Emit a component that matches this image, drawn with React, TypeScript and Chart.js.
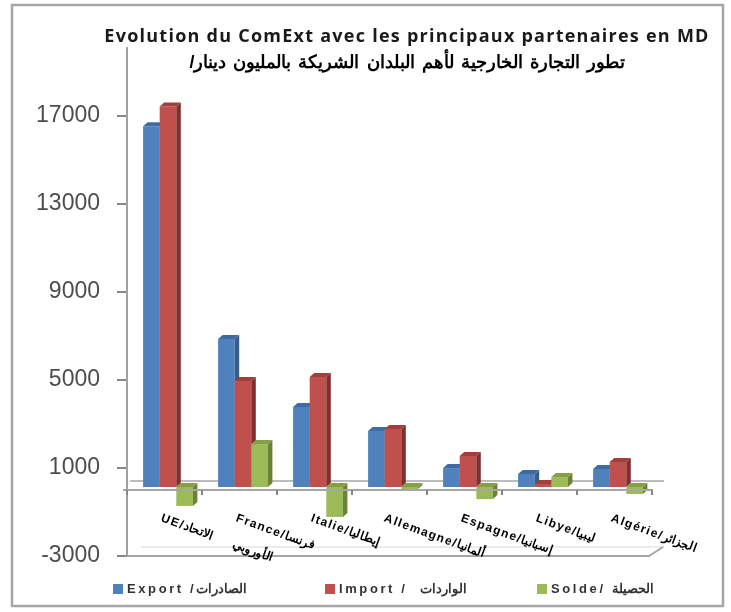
import React, { useEffect, useRef } from "react";
import { Chart, registerables } from "chart.js";

Chart.register(...registerables);

const titleFr = "Evolution du ComExt avec les principaux partenaires en MD";
const titleAr = "تطور التجارة الخارجية لأهم البلدان الشريكة بالمليون دينار/";
const categories = ["UE", "France", "Italie", "Allemagne", "Espagne", "Libye", "Algérie"];
const categoryLabels = [
  ["UE/الاتحاد", "الأوروبي"],
  ["France/فرنسا"],
  ["Italie/إيطاليا"],
  ["Allemagne/ألمانيا"],
  ["Espagne/إسبانيا"],
  ["Libye/ليبيا"],
  ["Algérie/الجزائر"],
];
const yTicks = [-3000, 1000, 5000, 9000, 13000, 17000];
const exportValues = [16400, 6730, 3640, 2550, 860, 590, 820];
const importValues = [17300, 4820, 5000, 2640, 1410, 140, 1140];
const soldeValues = [-860, 1950, -1360, -90, -550, 450, -320];
const seriesLabels = ["Export /الصادرات", "Import /  الواردات", "Solde/ الحصيلة"];
const faces = [
  { front: "#4F81BD", side: "#385D8A", top: "#3E6BA3" },
  { front: "#C0504D", side: "#7F302E", top: "#A03F3C" },
  { front: "#9BBB59", side: "#6B8239", top: "#83A044" },
];

const DX = 4.5;
const DY = -4;
const SHIFT_X = 3.5;
const SHIFT_Y = -3;

function poly(ctx: CanvasRenderingContext2D, pts: number[][], fill: string) {
  ctx.beginPath();
  pts.forEach(([x, y], i) => (i ? ctx.lineTo(x, y) : ctx.moveTo(x, y)));
  ctx.closePath();
  ctx.fillStyle = fill;
  ctx.fill();
}

function line(ctx: CanvasRenderingContext2D, pts: number[][], color: string, w: number) {
  ctx.beginPath();
  pts.forEach(([x, y], i) => (i ? ctx.lineTo(x, y) : ctx.moveTo(x, y)));
  ctx.strokeStyle = color;
  ctx.lineWidth = w;
  ctx.stroke();
}

const decor = {
  id: "decor",
  beforeDraw(chart: any) {
    const { ctx, scales } = chart;
    const y = scales.y;
    const a = chart.chartArea;
    const zero = y.getPixelForValue(0);
    const low = y.getPixelForValue(-3000);
    ctx.save();
    // outer frame
    ctx.strokeStyle = "#A6A6A6";
    ctx.lineWidth = 2.5;
    ctx.strokeRect(12, 5, 711, 601);
    // floor back and wall edges
    line(ctx, [[a.left + 3, zero - 9], [a.right + 12, zero - 9]], "#A6A6A6", 1.5);
    line(ctx, [[a.left + 14, low - 9], [a.right + 12, low - 9]], "#E4E4E4", 1.5);
    line(ctx, [[a.left, low], [a.right - 3, low], [a.right + 11, low - 9]], "#A6A6A6", 2);
    ctx.restore();
  },
  beforeDatasetsDraw(chart: any) {
    // series are painted first to last, so that each bar's 3D side sits behind the next series
    const ctx = chart.ctx;
    ctx.save();
    ctx.translate(SHIFT_X, SHIFT_Y);
    faces.forEach((face, i) => {
      const meta = chart.getDatasetMeta(i);
      meta.controller.draw();
      meta.data.forEach((bar: any) => {
        const { x, y, base, width } = bar.getProps(["x", "y", "base", "width"], true);
        const l = x - width / 2;
        const r = x + width / 2;
        const t = Math.min(y, base);
        const b = Math.max(y, base);
        poly(ctx, [[r, b], [r + DX, b + DY], [r + DX, t + DY], [r, t]], face.side);
        poly(ctx, [[l, t], [l + DX, t + DY], [r + DX, t + DY], [r, t]], face.top);
      });
    });
    ctx.restore();
    return false;
  },
  afterDraw(chart: any) {
    const { ctx, scales } = chart;
    const x = scales.x;
    const zero = scales.y.getPixelForValue(0);
    const cw = x.getPixelForTick(1) - x.getPixelForTick(0);
    ctx.save();
    // category axis on top of the bars
    line(ctx, [[x.left - 4, zero], [x.right + 1, zero]], "#A6A6A6", 2);
    for (let i = 0; i <= categories.length; i++) {
      const px = x.left + i * cw;
      line(ctx, [[px, zero], [px, zero + 5]], "#868686", 2);
    }
    // rotated category labels
    categoryLabels.forEach((lines, i) => {
      const cx = x.getPixelForTick(i) - 3 + (i === 3 ? -2 : 0);
      ctx.save();
      ctx.translate(cx, 518);
      ctx.rotate((20 * Math.PI) / 180);
      ctx.font = "bold 12px 'Liberation Sans'";
      (ctx as any).letterSpacing = "1.3px";
      ctx.fillStyle = "#000";
      ctx.textBaseline = "middle";
      ctx.textAlign = "left";
      lines.forEach((t, k) => {
        ctx.fillText(t, k * 76, 0);
      });
      ctx.restore();
    });
    // titles
    ctx.textAlign = "center";
    ctx.textBaseline = "middle";
    ctx.fillStyle = "#1a1a1a";
    ctx.font = "bold 18px 'Open Sans'";
    (ctx as any).letterSpacing = "1.25px";
    ctx.fillText(titleFr, 407, 37);
    ctx.direction = "rtl";
    ctx.font = "bold 18px 'Liberation Sans'";
    (ctx as any).letterSpacing = "2px";
    ctx.fillStyle = "#000";
    ctx.fillText(titleAr, 407, 63);
    ctx.direction = "ltr";
    // legend
    const legendX = [113, 325, 537];
    seriesLabels.forEach((t, i) => {
      ctx.fillStyle = faces[i].front;
      ctx.fillRect(legendX[i], 584, 10, 10);
      ctx.font = "bold 13px 'Liberation Sans'";
      (ctx as any).letterSpacing = "2.6px";
      ctx.fillStyle = "#333";
      ctx.textAlign = "left";
      ctx.fillText(t, legendX[i] + 14, 589);
    });
    ctx.restore();
  },
};

export default function App() {
  const ref = useRef<HTMLCanvasElement>(null);
  useEffect(() => {
    const chart = new Chart(ref.current!, {
      type: "bar",
      data: {
        labels: categories,
        datasets: [exportValues, importValues, soldeValues].map((data, i) => ({
          label: seriesLabels[i],
          data,
          backgroundColor: faces[i].front,
          categoryPercentage: 0.664,
          barPercentage: 1,
        })),
      },
      options: {
        responsive: false,
        animation: false,
        layout: { padding: { left: 0, right: 79, top: 48, bottom: 56 } },
        plugins: { legend: { display: false }, title: { display: false }, tooltip: { enabled: false } },
        scales: {
          x: {
            position: { y: 0 },
            grid: { display: false, drawTicks: false },
            border: { display: false },
            ticks: { display: false },
          },
          y: {
            min: -3000,
            max: 20090,
            afterBuildTicks: (s: any) => {
              s.ticks = yTicks.map((value) => ({ value }));
            },
            afterFit: (s: any) => {
              s.width = 127;
            },
            grid: { drawOnChartArea: false, color: "#868686", lineWidth: 2, tickLength: 10 },
            border: { color: "#A0A0A0", width: 2 },
            ticks: {
              padding: 17,
              color: "#4d4d4d",
              font: { family: "'Liberation Sans'", size: 23 },
              callback: (v: any) => String(v),
            },
          },
        },
      },
      plugins: [decor],
    } as any);
    return () => chart.destroy();
  }, []);
  return (
    <div style={{ position: "absolute", left: 0, top: 0, width: 731, height: 612, background: "#fff" }}>
      <canvas ref={ref} width={731} height={612} style={{ display: "block", filter: "blur(0.4px)" }} />
    </div>
  );
}
